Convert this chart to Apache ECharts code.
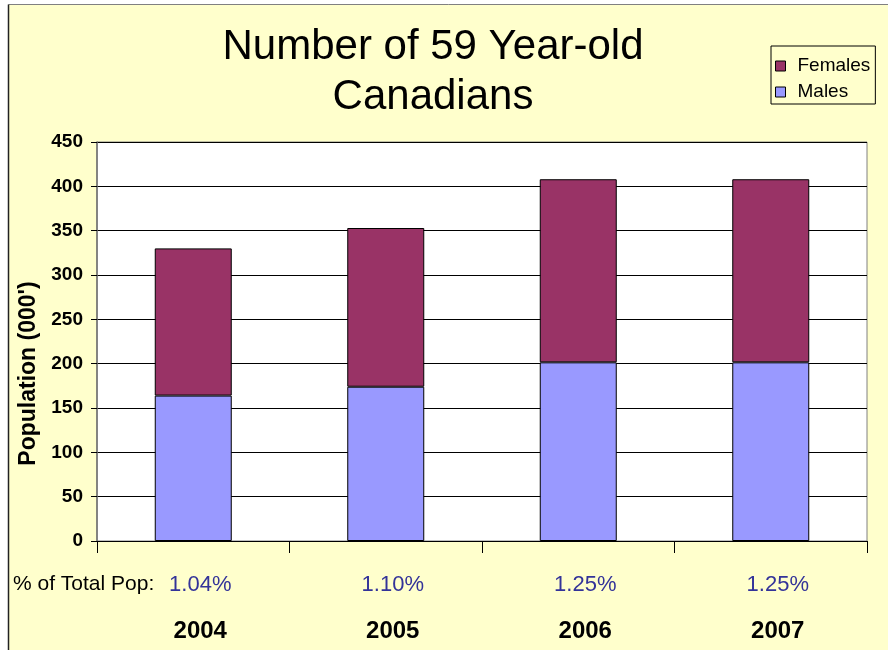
<!DOCTYPE html>
<html>
<head>
<meta charset="utf-8">
<style>
  html, body { margin: 0; padding: 0; background: #ffffff; }
  #chart { width: 888px; height: 650px; }
</style>
<script src="https://cdn.jsdelivr.net/npm/echarts@6/dist/echarts.min.js"></script>
</head>
<body>
<div id="chart"></div>
<script>
// Population of 59-year-old Canadians, thousands
const years = ['2004', '2005', '2006', '2007'];
const males = [164, 174, 201.5, 201.5];
const females = [166, 179, 206.5, 206.5];
const shareOfTotal = ['1.04%', '1.10%', '1.25%', '1.25%'];

const FONT = '"Liberation Sans", Arial, sans-serif';
const chart = echarts.init(document.getElementById('chart'));

chart.setOption({
  animation: false,
  textStyle: { fontFamily: FONT },
  graphic: [
    {
      type: 'rect', z: -10, silent: true,
      shape: { x: 8.5, y: 4.5, width: 900, height: 700 },
      style: { fill: '#FFFFCC', stroke: null }
    },
    {
      type: 'line', z: -9, silent: true,
      shape: { x1: 8.5, y1: 4.5, x2: 888, y2: 4.5 },
      style: { stroke: '#808080', lineWidth: 1 }
    },
    {
      type: 'line', z: -9, silent: true,
      shape: { x1: 8.5, y1: 4.5, x2: 8.5, y2: 650 },
      style: { stroke: '#222222', lineWidth: 1.5 }
    },
    {
      type: 'text', silent: true,
      x: 433, y: 22,
      style: {
        text: 'Number of 59 Year-old\nCanadians',
        font: '42px ' + FONT,
        fill: '#000',
        align: 'center',
        verticalAlign: 'top',
        lineHeight: 50
      }
    },
    {
      type: 'text', silent: true,
      x: 13, y: 584,
      style: {
        text: '% of Total Pop:',
        font: '21px ' + FONT,
        fill: '#000',
        align: 'left',
        verticalAlign: 'middle'
      }
    }
  ],
  legend: {
    orient: 'vertical',
    left: 771,
    top: 46,
    padding: [10, 5, 2, 4],
    backgroundColor: '#FFFFCC',
    borderColor: '#000',
    borderWidth: 1,
    itemWidth: 10,
    itemHeight: 10,
    itemGap: 6,
    icon: 'rect',
    itemStyle: { borderColor: '#000', borderWidth: 1 },
    textStyle: {
      fontSize: 19, lineHeight: 20, color: '#000', fontFamily: FONT,
      padding: [0, 0, 0, 7]
    },
    data: ['Females', 'Males']
  },
  grid: {
    left: 97, right: 21, top: 142, bottom: 109,
    show: true,
    backgroundColor: '#ffffff',
    borderColor: '#808080',
    borderWidth: 1
  },
  xAxis: {
    type: 'category',
    data: years,
    axisLine: { lineStyle: { color: '#000', width: 1 } },
    axisTick: { show: true, length: 12, lineStyle: { color: '#000' } },
    axisLabel: {
      margin: 20,
      padding: [0, 0, 0, 14],
      formatter: function (value, idx) {
        return '{p|' + shareOfTotal[idx] + '}\n{y|' + value + '}';
      },
      rich: {
        p: { fontSize: 22, color: '#333399', lineHeight: 47, fontFamily: FONT },
        y: { fontSize: 24, fontWeight: 'bold', color: '#000', lineHeight: 47, fontFamily: FONT }
      }
    }
  },
  yAxis: {
    type: 'value',
    min: 0,
    max: 450,
    interval: 50,
    name: "Population (000')",
    nameLocation: 'middle',
    nameRotate: 90,
    nameGap: 46,
    nameTextStyle: {
      fontSize: 23, fontWeight: 'bold', color: '#000', fontFamily: FONT,
      padding: [0, 64, 0, 0]
    },
    axisLine: { show: true, lineStyle: { color: '#707070', width: 1.5 } },
    axisTick: { show: true, length: 6, lineStyle: { color: '#000' } },
    axisLabel: { fontSize: 19, fontWeight: 'bold', color: '#000', margin: 14, fontFamily: FONT },
    splitLine: { show: true, lineStyle: { color: '#000', width: 1 } }
  },
  series: [
    {
      name: 'Males',
      type: 'bar',
      stack: 'pop',
      barWidth: '40%',
      data: males,
      itemStyle: { color: '#9999FF', borderColor: '#000', borderWidth: 1 }
    },
    {
      name: 'Females',
      type: 'bar',
      stack: 'pop',
      barWidth: '40%',
      data: females,
      itemStyle: { color: '#993366', borderColor: '#000', borderWidth: 1 }
    }
  ]
});
</script>
</body>
</html>
